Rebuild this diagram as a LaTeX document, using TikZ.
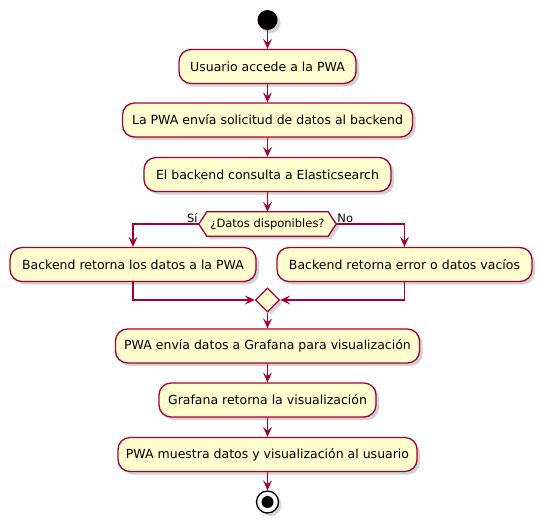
\documentclass[tikz,border=0pt]{standalone}
\usepackage{fontspec}
\setmainfont{DejaVu Sans}
\usetikzlibrary{shapes.geometric,shadows,arrows.meta,backgrounds}
\definecolor{umlred}{HTML}{A80036}
\definecolor{umlfill}{HTML}{FEFECE}
\begin{document}
\begin{tikzpicture}[x=1pt,y=-1pt,
  shade/.style={drop shadow={shadow xshift=3pt,shadow yshift=-3pt,opacity=0.25,fill=black!70}},
  act/.style={draw=umlred, fill=umlfill, line width=1.3pt, rounded corners=12pt,
    minimum height=34pt, inner sep=0pt, font=\fontsize{12.5}{14}\selectfont, shade},
  small/.style={font=\fontsize{11.5}{13}\selectfont},
  flow/.style={draw=umlred, line width=1.3pt, -{Stealth[length=10pt,width=9pt,inset=4pt]}},
  startnode/.style={circle, fill=black, minimum size=20pt, inner sep=0pt, shade},
  mergenode/.style={diamond, draw=umlred, fill=umlfill, line width=1.3pt, minimum width=24pt, minimum height=24pt, inner sep=0pt, shade}
]
\useasboundingbox (0,0) rectangle (540,523);

\node[startnode] (start) at (267.5,20) {};
\node[act, minimum width=177pt] (a1) at (267.5,66.5) {Usuario accede a la PWA};
\node[act, minimum width=290pt] (a2) at (267.5,120) {La PWA envía solicitud de datos al backend};
\node[act, minimum width=247pt] (a3) at (267.5,174.5) {El backend consulta a Elasticsearch};

\node[small, minimum width=137pt, minimum height=24pt, inner sep=0pt] (dec) at (267.5,224) {¿Datos disponibles?};
\begin{scope}[on background layer]
  \draw[draw=umlred, fill=umlfill, line width=1.3pt, shade]
    (dec.west) -- ([xshift=8pt]dec.north west) -- ([xshift=-8pt]dec.north east) -- (dec.east)
    -- ([xshift=-8pt]dec.south east) -- ([xshift=8pt]dec.south west) -- cycle;
\end{scope}
\node[small, anchor=south east, inner sep=1pt] (si) at (dec.west) {Sí};
\node[small, anchor=south west, inner sep=1pt] (no) at (dec.east) {No};

\node[act, minimum width=246pt] (l) at (133,264.5) {Backend retorna los datos a la PWA};
\node[act, minimum width=255pt] (r) at (404.5,264.5) {Backend retorna error o datos vacíos};

\node[mergenode] (merge) at (267.5,300) {};

\node[act, minimum width=304pt] (a4) at (267.5,346) {PWA envía datos a Grafana para visualización};
\node[act, minimum width=217pt] (a5) at (267.5,400) {Grafana retorna la visualización};
\node[act, minimum width=299pt] (a6) at (267.5,454.5) {PWA muestra datos y visualización al usuario};

\node[circle, draw=black, line width=1.3pt, fill=white, minimum size=22pt, inner sep=0pt, shade] (stop) at (267.5,502) {};
\node[circle, fill=black, minimum size=12pt, inner sep=0pt] (stopdot) at (stop) {};

\draw[flow] (start) -- (a1);
\draw[flow] (a1) -- (a2);
\draw[flow] (a2) -- (a3);
\draw[flow] (a3) -- (dec.north);
\draw[flow] (dec.west) -| (l.north);
\draw[flow] (dec.east) -| (r.north);
\draw[flow] (l.south) |- (merge.west);
\draw[flow] (r.south) |- (merge.east);
\draw[flow] (merge.south) -- (a4.north);
\draw[flow] (a4) -- (a5);
\draw[flow] (a5) -- (a6);
\draw[flow] (a6) -- (stop);
\end{tikzpicture}
\end{document}
